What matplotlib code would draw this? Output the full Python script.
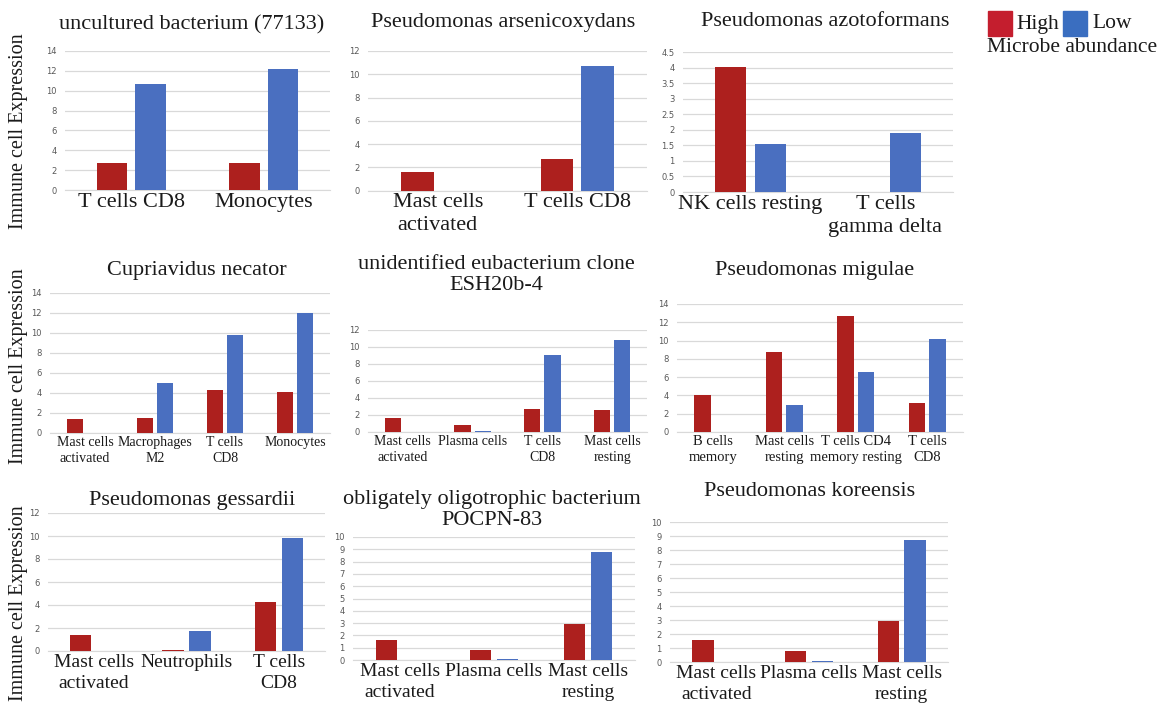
import matplotlib
matplotlib.use('Agg')
import matplotlib.pyplot as plt
import numpy as np
from matplotlib.patches import Rectangle
from matplotlib.ticker import FuncFormatter

plt.rcParams['font.family'] = ['Liberation Serif', 'DejaVu Serif']

# one entry per microbe: title, immune cell types, high / low abundance expression
titles = [
    'uncultured bacterium (77133)',
    'Pseudomonas arsenicoxydans',
    'Pseudomonas azotoformans',
    'Cupriavidus necator',
    'unidentified eubacterium clone\nESH20b-4',
    'Pseudomonas migulae',
    'Pseudomonas gessardii',
    'obligately oligotrophic bacterium\nPOCPN-83',
    'Pseudomonas koreensis',
]

cells = [
    ['T cells CD8', 'Monocytes'],
    ['Mast cells\nactivated', 'T cells CD8'],
    ['NK cells resting', 'T cells\ngamma delta'],
    ['Mast cells\nactivated', 'Macrophages\nM2', 'T cells\nCD8', 'Monocytes'],
    ['Mast cells\nactivated', 'Plasma cells', 'T cells\nCD8', 'Mast cells\nresting'],
    ['B cells\nmemory', 'Mast cells\nresting', 'T cells CD4\nmemory resting', 'T cells\nCD8'],
    ['Mast cells\nactivated', 'Neutrophils', 'T cells\nCD8'],
    ['Mast cells\nactivated', 'Plasma cells', 'Mast cells\nresting'],
    ['Mast cells\nactivated', 'Plasma cells', 'Mast cells\nresting'],
]

high = [
    [2.7, 2.7],
    [1.6, 2.7],
    [4.03, 0],
    [1.4, 1.5, 4.3, 4.05],
    [1.6, 0.85, 2.7, 2.6],
    [4.0, 8.8, 12.7, 3.2],
    [1.4, 0.08, 4.3],
    [1.6, 0.8, 2.9],
    [1.6, 0.8, 2.9],
]

low = [
    [10.7, 12.2],
    [0, 10.7],
    [1.55, 1.9],
    [0, 5.05, 9.85, 12.0],
    [0, 0.1, 9.0, 10.8],
    [0, 2.9, 6.6, 10.2],
    [0, 1.75, 9.85],
    [0, 0.07, 8.75],
    [0, 0.07, 8.75],
]

y_max = [14, 12, 4.5, 14, 12, 14, 12, 10, 10]
y_step = [2, 2, 0.5, 2, 2, 2, 2, 1, 1]

# layout in pixels: axes box (left, top, right, bottom), title centre, label size
W, H = 1174, 714
boxes = [
    (65, 51, 330, 190), (368, 51, 647, 190.5), (683, 52, 953, 192),
    (50, 293, 330, 433), (368, 330, 647, 432), (677, 304, 963, 432),
    (48, 513, 325, 651), (353, 537, 635, 660), (670, 522, 948, 662),
]
title_pos = [
    (192, 25), (503, 22), (825, 22),
    (197, 270), (496, 275), (815, 270),
    (192, 500), (492, 510), (810, 492),
]
cat_size = [16, 16, 16, 10, 10, 10.5, 14, 14, 14]

red = '#AD201E'
blue = '#4A6FC0'

fig = plt.figure(figsize=(W / 100, H / 100), dpi=100)

for i in range(9):
    l, t, r, b = boxes[i]
    ax = fig.add_axes([l / W, 1 - b / H, (r - l) / W, (b - t) / H])
    x = np.arange(len(cells[i]))
    ax.bar(x - 0.145, high[i], width=0.23, color=red, zorder=3)
    ax.bar(x + 0.145, low[i], width=0.23, color=blue, zorder=3)
    ax.set_xlim(-0.5, len(cells[i]) - 0.5)
    ax.set_ylim(0, y_max[i])
    ax.set_yticks(np.arange(0, y_max[i] + y_step[i] / 2, y_step[i]))
    ax.yaxis.set_major_formatter(FuncFormatter(lambda v, p: f'{v:g}'))
    ax.set_xticks(x)
    ax.set_xticklabels(cells[i], fontsize=cat_size[i], color='#1a1a1a',
                       linespacing=1.3)
    ax.tick_params(axis='x', length=0, pad=2)
    ax.tick_params(axis='y', length=0, labelsize=6, labelcolor='#595959', pad=6)
    for lab in ax.get_yticklabels():
        lab.set_family('DejaVu Sans')
    ax.grid(axis='y', color='#D9D9D9', lw=0.9, zorder=0)
    for s in ['top', 'right', 'left']:
        ax.spines[s].set_visible(False)
    ax.spines['bottom'].set_color('#D9D9D9')
    tx, ty = title_pos[i]
    fig.text(tx / W, 1 - ty / H, titles[i], ha='center', va='center',
             fontsize=16, color='#1a1a1a', linespacing=1.15)

# shared y label for each row
for yc in [131, 366, 603]:
    fig.text(19 / W, 1 - yc / H, 'Immune cell Expression', rotation=90,
             ha='center', va='center', fontsize=14.5, color='#1a1a1a')

# legend
fig.add_artist(Rectangle((988 / W, 1 - 36 / H), 24 / W, 25 / H,
                         transform=fig.transFigure, color='#C41E2E'))
fig.text(1016 / W, 1 - 24 / H, 'High', fontsize=15.5, va='center', color='#1a1a1a')
fig.add_artist(Rectangle((1063 / W, 1 - 36 / H), 24 / W, 25 / H,
                         transform=fig.transFigure, color='#3A6EC0'))
fig.text(1092 / W, 1 - 24 / H, 'Low', fontsize=15.5, va='center', color='#1a1a1a')
fig.text(1072 / W, 1 - 48 / H, 'Microbe abundance', fontsize=15.5, ha='center',
         va='center', color='#1a1a1a')

fig.savefig('out.png', dpi=100, facecolor='white')
